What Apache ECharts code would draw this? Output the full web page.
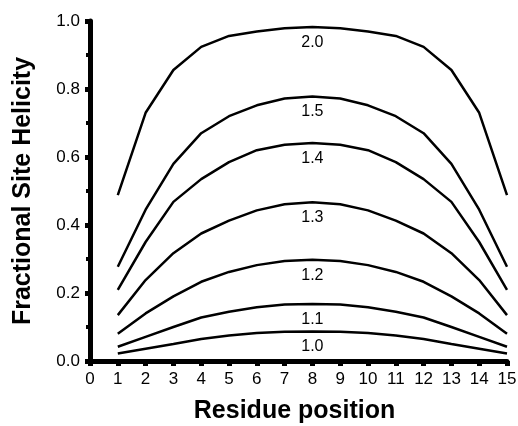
<!DOCTYPE html>
<html>
<head>
<meta charset="utf-8">
<script src="https://cdn.jsdelivr.net/npm/echarts@6/dist/echarts.min.js"></script>
<style>
html,body{margin:0;padding:0;background:#fff;}
#chart{width:518px;height:426px;}
</style>
</head>
<body>
<div id="chart"></div>
<script>
var positions = [1,2,3,4,5,6,7,8,9,10,11,12,13,14,15];
var xTicks = [0,1,2,3,4,5,6,7,8,9,10,11,12,13,14,15];
var yTicks = ['0.0','0.2','0.4','0.6','0.8','1.0'];
var seriesNames = ['1.0','1.1','1.2','1.3','1.4','1.5','2.0'];
var h10 = [0.022,0.036,0.050,0.065,0.075,0.082,0.086,0.087,0.086,0.082,0.075,0.065,0.050,0.036,0.022];
var h11 = [0.042,0.071,0.100,0.128,0.145,0.158,0.166,0.168,0.166,0.158,0.145,0.128,0.100,0.071,0.042];
var h12 = [0.080,0.140,0.190,0.233,0.262,0.282,0.294,0.298,0.294,0.282,0.262,0.233,0.190,0.140,0.080];
var h13 = [0.135,0.238,0.317,0.375,0.413,0.443,0.461,0.467,0.461,0.443,0.413,0.375,0.317,0.238,0.135];
var h14 = [0.209,0.350,0.468,0.535,0.585,0.620,0.636,0.641,0.636,0.620,0.585,0.535,0.468,0.350,0.209];
var h15 = [0.277,0.445,0.580,0.670,0.720,0.752,0.772,0.778,0.772,0.752,0.720,0.670,0.580,0.445,0.277];
var h20 = [0.488,0.730,0.856,0.924,0.956,0.969,0.979,0.982,0.979,0.969,0.956,0.924,0.856,0.730,0.488];
var allValues = [h10,h11,h12,h13,h14,h15,h20];
var labelPosition = 8;

var FONT = '"Liberation Sans", Arial, sans-serif';
var chart = echarts.init(document.getElementById('chart'), null, {renderer:'canvas'});

var series = allValues.map(function(vals, si){
  var idx = positions.indexOf(labelPosition);
  return {
    name: seriesNames[si],
    type: 'line',
    smooth: false,
    showSymbol: false,
    symbol: 'none',
    animation: false,
    lineStyle: {color:'#000', width:2.5},
    data: vals.map(function(v,i){ return [positions[i], v]; }),
    markPoint: {
      symbol: 'circle',
      symbolSize: 1,
      itemStyle: {color:'rgba(0,0,0,0)'},
      silent: true,
      animation: false,
      label: {show:true, position:'bottom', distance:7, formatter: seriesNames[si],
        color:'#000', fontFamily:FONT, fontSize:16},
      data: [{coord:[positions[idx], vals[idx]]}]
    }
  };
});

chart.setOption({
  backgroundColor:'#fff',
  animation:false,
  grid:{left:90, right:11, top:21, bottom:65, containLabel:false, outerBoundsMode:'none'},
  xAxis:{
    type:'value', min:0, max:15, interval:1,
    name:'Residue position', nameLocation:'middle', nameGap:38,
    nameTextStyle:{fontFamily:FONT, fontSize:25, fontWeight:'bold', color:'#000', padding:[0,8,0,0]},
    axisLine:{show:true, onZero:false, lineStyle:{color:'#000', width:5}},
    axisTick:{show:true, inside:false, length:5, lineStyle:{color:'#000', width:5}},
    axisLabel:{margin:10, fontFamily:FONT, fontSize:17, color:'#000',
      formatter:function(v){ var i = xTicks.indexOf(v); return i>=0 ? String(xTicks[i]) : ''; }},
    splitLine:{show:false}
  },
  yAxis:{
    type:'value', min:0, max:1, interval:0.2,
    name:'Fractional Site Helicity', nameLocation:'middle', nameGap:54,
    nameTextStyle:{fontFamily:FONT, fontSize:25, fontWeight:'bold', color:'#000'},
    axisLine:{show:true, onZero:false, lineStyle:{color:'#000', width:5}},
    axisTick:{show:true, inside:false, length:5, lineStyle:{color:'#000', width:5}},
    minorTick:{show:true, splitNumber:2, length:4, lineStyle:{color:'#000', width:4}},
    axisLabel:{margin:10, fontFamily:FONT, fontSize:17, color:'#000',
      formatter:function(v){ return yTicks[Math.round(v/0.2)]; }},
    splitLine:{show:false}
  },
  series: series
});
</script>
</body>
</html>
